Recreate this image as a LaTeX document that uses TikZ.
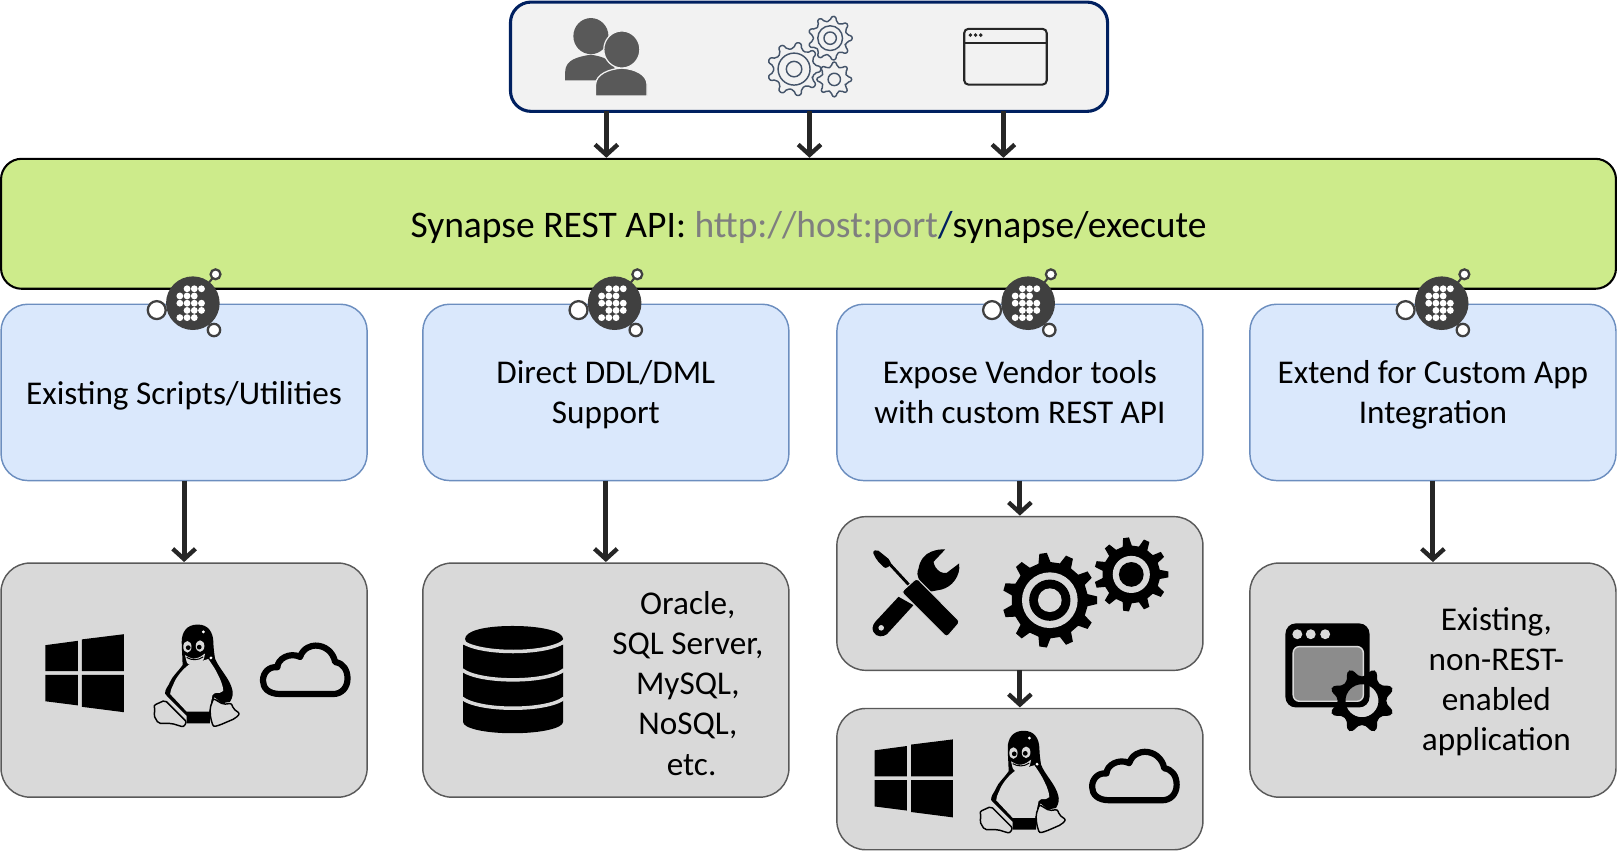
\documentclass[tikz,border=0pt]{standalone}
\usepackage{fontspec}
\setmainfont{Carlito}
\usetikzlibrary{arrows.meta}
\definecolor{navy}{HTML}{002060}
\definecolor{apigreen}{HTML}{CDEB8B}
\definecolor{paleblue}{HTML}{DAE8FC}
\definecolor{blueedge}{HTML}{6C8EBF}
\definecolor{boxgray}{HTML}{D9D9D9}
\definecolor{edgegray}{HTML}{595959}
\definecolor{toppanel}{HTML}{F2F2F2}
\definecolor{arrowdark}{HTML}{262626}
\definecolor{logodark}{HTML}{404040}
\definecolor{peoplegray}{HTML}{595959}
\definecolor{gearline}{HTML}{44546A}
\definecolor{linkgray}{HTML}{7F7F7F}
\newcommand{\gearoutline}[3]{({(1-0.28)*360/#1}:#3)
  \foreach \gi [evaluate=\gi as \ga using \gi*360/#1] in {1,...,#1} {
    -- ({\ga-0.28*360/#1}:#3) -- ({\ga-0.14*360/#1}:#2) -- ({\ga+0.14*360/#1}:#2) -- ({\ga+0.28*360/#1}:#3)
  } -- cycle}
\newcommand{\toprule}{\rule{0pt}{15pt}}
\newcommand{\botrule}{\rule[-3.5pt]{0pt}{3.5pt}}
\tikzset{
  panelbox/.style={draw=navy,fill=toppanel,line width=1.5pt,rounded corners=10pt,inner sep=0pt,outer sep=0pt,minimum width=289.5pt,minimum height=53pt},
  apibox/.style={draw=black,fill=apigreen,line width=1pt,rounded corners=10pt,inner sep=0pt,outer sep=0pt,minimum width=783pt,minimum height=63pt,font=\fontsize{18.2}{22}\selectfont,execute at begin node=\rule{0pt}{16pt}},
  bluebox/.style={draw=blueedge,fill=paleblue,line width=.7pt,rounded corners=13pt,inner sep=0pt,outer sep=0pt,minimum width=177.5pt,minimum height=85.5pt,align=center,font=\fontsize{16.1}{19.5}\selectfont,execute at begin node=\toprule,execute at end node=\botrule},
  graybox/.style={draw=edgegray,fill=boxgray,line width=.7pt,rounded corners=14pt,inner sep=0pt,outer sep=0pt,minimum width=177.5pt},
  graytext/.style={align=center,inner sep=0pt,font=\fontsize{16.1}{19.5}\selectfont,execute at begin node=\toprule,execute at end node=\botrule},
  flow/.style={draw=arrowdark,line width=2.4pt,-{Straight Barb[length=5pt,width=11pt,line width=2.1pt]},shorten >=.5pt},
  windows/.pic={
    \fill[black] (0,10.6)--(31.4,6.4)--(31.4,35.8)--(0,35.8)--cycle;
    \fill[black] (35.5,5)--(76,0)--(76,35.8)--(35.5,35.8)--cycle;
    \fill[black] (0,39.4)--(31.4,39.4)--(31.4,69)--(0,65)--cycle;
    \fill[black] (35.5,39.4)--(76,39.4)--(76,75.6)--(35.5,70.4)--cycle;
  },
  cloud/.pic={
    \draw[black,line width=3pt,line join=round] (20,51) .. controls (8,51) and (3,45) .. (3,38)
      .. controls (3,30) and (9,24) .. (17,25)
      .. controls (17,17) and (29,10) .. (39,15)
      .. controls (42,6) and (50,4) .. (54,4)
      .. controls (63,4) and (71,10) .. (73,20)
      .. controls (81,21) and (85,28) .. (85,36)
      .. controls (85,45) and (79,51) .. (71,51) -- cycle;
  },
  tux/.pic={
    % body silhouette
    \fill[black] (-0.3,-0.4) .. controls (-11,-0.4) and (-15.8,7) .. (-15.8,16.4)
      .. controls (-15.8,24) and (-15,30) .. (-15,39)
      .. controls (-20,46) and (-25,50) .. (-27,55)
      .. controls (-29,60) and (-32,62) .. (-32,66.5)
      -- (-30,69) -- (-11,88) -- (-11,95.5) -- (11.6,95.5) -- (11.6,80) -- (16,70) -- (23,76) -- (31,74.5)
      .. controls (34,70) and (34,66) .. (33.3,63)
      .. controls (31,52) and (20,42) .. (16.5,32.5)
      .. controls (15.5,26) and (15,22) .. (14.9,16.4)
      .. controls (14.5,7) and (10,-0.4) .. (-0.3,-0.4) -- cycle;
    % belly
    \fill[boxgray] (-9.4,39) .. controls (-16,44) and (-22,52) .. (-24,58)
      .. controls (-26,62) and (-27,65) .. (-27,67)
      -- (-11,84) -- (11,84) -- (14,68) -- (16.5,66)
      .. controls (20,66) and (23,66) .. (24.5,64)
      .. controls (24,56) and (20,50) .. (18,45.5)
      .. controls (15,40) and (12,36) .. (10,33) -- cycle;
    % beak and chin
    \fill[boxgray] (-12.6,29.3) .. controls (-8,32) and (-5,33) .. (-3,32.5)
      .. controls (1,32) and (4,30) .. (6.8,27.7)
      .. controls (6,33) and (5,35) .. (3.6,35.8)
      .. controls (0,38) and (-3,39) .. (-6,39.5)
      .. controls (-9,39) and (-11,37) .. (-11,35.8) -- cycle;
    \draw[black,line width=.5pt] (-11,31.5) .. controls (-6,34.5) and (0,34.5) .. (5,31);
    % eyes
    \fill[boxgray] (-10.3,21.2) circle [x radius=4,y radius=5.6];
    \fill[boxgray] (2,20.5) circle [x radius=4.2,y radius=5.6];
    \fill[black] (-9.5,22) circle [radius=2.3];
    \fill[black] (1.2,21.5) circle [radius=2.3];
    % highlights
    \fill[white] (5.2,6.7) circle [radius=1.5];
    \fill[white] (12.6,32) circle [radius=1.5];
    % feet
    \filldraw[fill=boxgray,draw=black,line width=.7pt,line join=round,rounded corners=1pt]
      (-43,78) -- (-32,73) -- (-27,78) -- (-19,86) -- (-11,94) -- (-14,99) -- (-25.5,95.5)
      -- (-38.4,95.5) -- (-43,87.5) -- (-41.5,82.6) -- cycle;
    \filldraw[fill=boxgray,draw=black,line width=.7pt,line join=round,rounded corners=1pt]
      (14.9,71.3) -- (24.5,77) -- (32.6,76) -- (34,81) -- (40.7,86) -- (35.9,90.7)
      -- (21.3,97) -- (14.9,98.8) -- (12.3,90.7) -- (11.6,81) -- cycle;
  },
  synlogo/.pic={
    \draw[logodark,line width=1pt] (0,0) -- (22,-28);
    \draw[logodark,line width=1pt] (0,0) -- (20.5,26);
    \filldraw[fill=white,draw=logodark,line width=1.1pt] (-35,6.7) circle [radius=8.7];
    \filldraw[fill=white,draw=logodark,line width=1.1pt] (22,-28) circle [radius=4.8];
    \filldraw[fill=white,draw=logodark,line width=1.1pt] (20.5,26) circle [radius=6];
    \fill[logodark] (0,0) circle [radius=26];
    \foreach \dx/\dy in {-1/-2,0/-2,1/-2,-2/-1,-1/-1,0/-1,-2/0,-1/0,0/0,1/0,-1/1,0/1,1/1,-2/2,-1/2,0/2}
      \fill[white] ({(\dx+.2)*7},{\dy*7}) circle [radius=3.3];
  },
}
\begin{document}
\begin{tikzpicture}[x=0.5pt,y=-0.5pt]
\useasboundingbox (0,0) rectangle (1568,836);
% main boxes
\node[panelbox] (panel) at (784.5,55) {};
\node[apibox] (api) at (784,217) {Synapse REST API: \textcolor{linkgray}{http://host:port}\textcolor{navy}{/}synapse/execute};
\node[bluebox] (b1) at (178.5,380.5) {Existing Scripts/Utilities};
\node[bluebox] (b2) at (587.5,380.5) {};
\node[bluebox] (b3) at (989,380.5) {};
\node[bluebox] (b4) at (1389.5,380.5) {};
\node[graytext] (t2b) at (587.5,383.5) {Direct DDL/DML\\Support};
\node[graytext] (t3b) at (989,383.5) {Expose Vendor tools\\with custom REST API};
\node[graytext] (t4b) at (1389.5,383.5) {Extend for Custom App\\Integration};
\node[graybox,minimum height=113.5pt] (g1) at (178.5,659.5) {};
\node[graybox,minimum height=113.5pt] (g2) at (587.5,659.5) {};
\node[graybox,minimum height=74.5pt] (g3) at (989,575.5) {};
\node[graybox,minimum height=68.5pt] (g3b) at (989,755.5) {};
\node[graybox,minimum height=113.5pt] (g4) at (1389.5,659.5) {};
\node[graytext] (t2) at (667,666) {Oracle,\\SQL Server,\\MySQL,\\NoSQL,\\\ etc.};
\node[graytext] (t4) at (1451,662) {Existing,\\non-REST-\\enabled\\application};
% connector anchors
\coordinate (u1) at (588,55);
\coordinate (u2) at (785,55);
\coordinate (u3) at (973,55);
% connectors
\draw[flow] (u1 |- panel.south) -- (u1 |- api.north);
\draw[flow] (u2 |- panel.south) -- (u2 |- api.north);
\draw[flow] (u3 |- panel.south) -- (u3 |- api.north);
\draw[flow] (b1.south) -- (g1.north);
\draw[flow] (b2.south) -- (g2.north);
\draw[flow] (b3.south) -- (g3.north);
\draw[flow] (g3.south) -- (g3b.north);
\draw[flow] (b4.south) -- (g4.north);
% logos
\pic at (187,294) {synlogo};
\pic at (596,294) {synlogo};
\pic at (997,294) {synlogo};
\pic at (1398,294) {synlogo};
% people
\fill[peoplegray] (548,78) -- (548,70) .. controls (548,58) and (560,55) .. (573,53) .. controls (585,55) and (595,58) .. (597,70) -- (597,78) -- cycle;
\fill[peoplegray] (573,35) circle [x radius=17,y radius=17.5];
\filldraw[fill=peoplegray,draw=toppanel,line width=.6pt] (577.5,93) -- (577.5,82) .. controls (578,72) and (590,67) .. (603,66) .. controls (616,67) and (627,72) .. (627.5,82) -- (627.5,93) -- cycle;
\filldraw[fill=peoplegray,draw=toppanel,line width=.6pt] (603,48) circle [x radius=17.5,y radius=18];
% outline gears
\begin{scope}[shift={(770,67)},gearline,line width=.7pt,line join=round,rounded corners=1pt]
  \draw[fill=toppanel] \gearoutline{9}{26}{20};
  \draw (0,0) circle [radius=15.5];
  \draw (0,0) circle [radius=7.5];
\end{scope}
\begin{scope}[shift={(805,37)},gearline,line width=.7pt,line join=round,rounded corners=1pt]
  \draw[fill=toppanel] \gearoutline{9}{21.5}{16.5};
  \draw (0,0) circle [radius=12];
  \draw (0,0) circle [radius=6];
\end{scope}
\begin{scope}[shift={(809,77)},gearline,line width=.7pt,line join=round,rounded corners=1pt]
  \draw[fill=toppanel] \gearoutline{8}{17}{12.5};
  \draw (0,0) circle [radius=6];
\end{scope}
% window icon
\draw[arrowdark,line width=1pt,rounded corners=2pt] (935,28) rectangle (1015,82);
\draw[arrowdark,line width=1pt] (935,42) -- (1015,42);
\fill[arrowdark] (941,34) circle [radius=1.9] (946,34) circle [radius=1.9] (951,34) circle [radius=1.9];
% OS icons
\pic at (44,615) {windows};
\pic at (192,606) {tux};
\pic at (252,622) {cloud};
\pic at (848,717) {windows};
\pic at (993,709) {tux};
\pic at (1056,725) {cloud};
% database
\fill[black] (497,607) .. controls (525,607) and (546,612) .. (546,619.5) .. controls (546,626) and (525,631) .. (497,631) .. controls (469,631) and (451,626) .. (451,619.5) .. controls (451,612) and (469,607) .. (497,607) -- cycle;
\fill[black] (449,625) .. controls (465,632) and (530,632) .. (546,625) -- (546,700) .. controls (546,706) and (525,711) .. (497,711) .. controls (469,711) and (449,706) .. (449,700) -- cycle;
\foreach \k in {0,27.5,55}
  \draw[boxgray,line width=1.7pt] (448,{622+\k}) .. controls (465,{635+\k}) and (530,{635+\k}) .. (547,{622+\k});
% tools: wrench
\fill[black] (871.3,578.7) -- (848.7,603) .. controls (843,610) and (848,617) .. (853.5,617)
  .. controls (856,617) and (858,616.5) .. (860,615) -- (885.8,586.8) -- cycle;
\fill[boxgray] (854.5,608.8) circle [radius=2.7];
\fill[black] (900.4,574) -- (892.3,564) .. controls (889,558) and (889,555) .. (890.7,551.3)
  .. controls (892,543) and (897,537) .. (903,535) .. controls (908,533) and (912,532.5) .. (916.5,532.8)
  -- (905.2,544.8) .. controls (906,549) and (908,552) .. (911.7,554.5)
  .. controls (914,555.5) and (916,556) .. (918,555.5) -- (930,546.4)
  .. controls (931,553) and (929,558) .. (926,562.6)
  .. controls (922,568) and (918,570) .. (913.3,571.6) -- cycle;
% tools: screwdriver
\draw[black,line width=1.4pt] (860,544) -- (884,570);
\fill[black,rounded corners=1pt] (846,535) -- (850.3,532.8) -- (863.2,543.2) -- (864,548) -- (858.4,551.3) -- (850.3,543.2) -- cycle;
\filldraw[fill=black,draw=boxgray,line width=.5pt,rounded corners=1.5pt] (889,560.5) -- (874,574) -- (918,618) -- (931,603) -- cycle;
% solid gears
\begin{scope}[shift={(1018,582)}]
  \fill[black] \gearoutline{11}{46}{37};
  \fill[boxgray] (0,0) circle [radius=27];
  \fill[black] (0,0) circle [radius=20];
  \fill[boxgray] (0,0) circle [radius=11.5];
\end{scope}
\begin{scope}[shift={(1097,557)}]
  \fill[black] \gearoutline{11}{36}{28};
  \fill[boxgray] (0,0) circle [radius=18];
  \fill[black] (0,0) circle [radius=12];
\end{scope}
% app icon
\fill[black,rounded corners=5pt] (1246.5,604.5) rectangle (1328,686);
\fill[boxgray] (1258,615) circle [radius=4.8] (1271,615) circle [radius=4.8] (1285,615) circle [radius=4.8];
\filldraw[fill=gray!90,draw=boxgray,line width=.7pt,rounded corners=3pt] (1254,627) rectangle (1322,680);
\begin{scope}[shift={(1320.7,679.5)},rotate=22.5]
  \fill[black,even odd rule,rounded corners=2pt] \gearoutline{8}{32}{24} (0,0) circle [radius=16];
\end{scope}
\end{tikzpicture}
\end{document}
